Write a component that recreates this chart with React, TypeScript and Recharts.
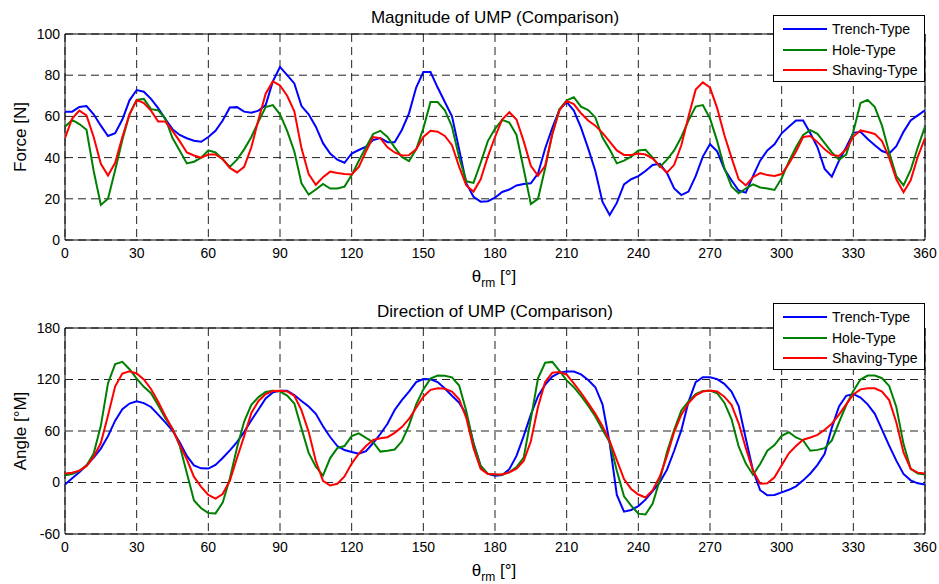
import React from 'react';
import { LineChart, Line, XAxis, YAxis, CartesianGrid, ReferenceArea, Legend } from 'recharts';

const FONT = '"Liberation Sans", Arial, Helvetica, sans-serif';

const theta = [
  0, 3, 6, 9, 12, 15, 18, 21, 24, 27, 30, 33, 36, 39, 42, 45, 48, 51, 54, 57, 60,
  63, 66, 69, 72, 75, 78, 81, 84, 87, 90, 93, 96, 99, 102, 105, 108, 111, 114, 117, 120,
  123, 126, 129, 132, 135, 138, 141, 144, 147, 150, 153, 156, 159, 162, 165, 168, 171, 174, 177, 180,
  183, 186, 189, 192, 195, 198, 201, 204, 207, 210, 213, 216, 219, 222, 225, 228, 231, 234, 237, 240,
  243, 246, 249, 252, 255, 258, 261, 264, 267, 270, 273, 276, 279, 282, 285, 288, 291, 294, 297, 300,
  303, 306, 309, 312, 315, 318, 321, 324, 327, 330, 333, 336, 339, 342, 345, 348, 351, 354, 357, 360,
];

// Magnitude of UMP [N]
const trenchForce = [
  62.3, 62.3, 64.6, 65, 61, 55.5, 50.5, 51.8, 58.5, 67.8, 72.8, 72, 68.5, 64, 58.7, 53.8, 51, 49.4, 48.2, 47.7, 50, 53, 58, 64.3, 64.5, 62.3, 61.8, 62.8, 65.5, 77, 84,
  80, 76, 65, 61, 55, 47, 42, 39, 37.5, 42, 43.7, 45.3, 48.5, 49.5, 47.5, 47.5, 53.4, 61.5, 74, 81.5, 81.5, 74, 67, 60, 44, 27.5, 21, 18.6, 18.8, 20.5,
  23.3, 24.5, 26.5, 27.2, 27.5, 32.2, 44.4, 54.5, 63.3, 67, 62.8, 54.5, 44.5, 33.5, 18.5, 12.1, 18, 27, 29.5, 31, 33.5, 36.4, 37, 32.5, 25, 21.8, 23.5, 31, 40.5, 46.5,
  43, 34.5, 29, 24, 23, 31, 38.5, 43.5, 46.5, 51.8, 55, 58, 58, 51.8, 45, 34.5, 30.7, 38.5, 45, 52, 52.5, 49, 46, 43.2, 42, 45.5, 52.5, 58, 60.5, 63,
];
const holeForce = [
  55, 58.3, 56.3, 53.5, 33.5, 17, 20, 34, 48.5, 61, 68, 68.5, 63.5, 63, 59, 49.5, 43.5, 37.2, 38, 40, 43.5, 42.5, 39.2, 35.5, 39, 44, 50, 57.5, 64.5, 65.5, 61,
  53, 43, 27.5, 22, 24.5, 27.2, 25, 25, 25.9, 31.5, 38.5, 45, 51.5, 53, 50, 45, 40.3, 38.3, 44, 54.2, 67, 67, 63, 55, 40, 28.5, 27.7, 37.5, 48, 54,
  58.3, 57, 51, 34.5, 17.5, 20, 35, 51.5, 63.5, 67.8, 69.3, 64.7, 63.1, 59.5, 49.7, 44, 37.2, 38.5, 40.5, 43.5, 43.8, 40, 35.5, 39, 43.5, 50, 58, 64.8, 65.5, 59,
  48, 35, 26, 22.7, 25, 27, 25.5, 25, 24.3, 30, 38, 45, 51, 53.3, 51.5, 47, 42.5, 39, 41.5, 52.5, 66.5, 68, 64.5, 55.5, 42.5, 31, 26.5, 34, 45, 55,
];
const shavingForce = [
  49.4, 59, 62.8, 60.5, 50, 37, 31.3, 37.5, 50, 61, 68, 66.5, 62.8, 57.5, 57.5, 53, 48, 42.5, 41, 40, 41.5, 41.5, 39.3, 35, 32.8, 35.5, 45, 58.5, 71, 77, 75,
  70, 62.5, 44.5, 32, 26.8, 30.5, 33.2, 32.5, 32, 31.8, 35.5, 43, 50, 49.4, 45, 42.5, 41, 41.2, 44, 50, 53, 52.6, 50.5, 46, 35.5, 26.5, 23.5, 29.5, 40.5, 50,
  58.5, 62, 58.5, 48, 36, 31.2, 36, 51.5, 63, 67.5, 66, 61.5, 58, 55.5, 52, 47.8, 43.5, 41.3, 41.3, 42, 41.5, 39.5, 36, 32.7, 36.5, 46, 60, 73, 76.5, 74,
  64, 51, 40, 29.5, 26.5, 30.5, 32.5, 31.5, 31.1, 32, 37, 43, 50, 50.5, 47.5, 44, 41.3, 40.8, 44, 50.2, 53.2, 52.4, 51.5, 48, 40, 29.5, 23.2, 29, 40.5, 49.5,
];

// Direction of UMP [°M]
const trenchAngle = [
  -2.4, 5, 12, 20, 29, 39.5, 54, 72, 85.5, 92, 94.5, 92.5, 88, 79, 70, 60.5, 47, 31, 20, 16.5, 16.2, 20.5, 28.5, 37.5, 47, 59, 72.5, 85, 98, 105, 107,
  107, 102, 95, 88.5, 80, 65.5, 53, 42.5, 37.8, 35.6, 33.5, 36.5, 46, 56.5, 68.5, 84.5, 96, 106, 117, 120.5, 120.3, 117, 109.5, 101, 93, 79, 46, 19, 10, 8,
  8.8, 15.5, 31, 54, 79, 100.5, 114, 123.5, 128, 129.3, 129.2, 126, 119.5, 111, 91, 46, -14.5, -34, -32, -27.5, -20, -10, 0.5, 15, 37, 61, 94, 116.8, 122.6, 122.6,
  120.5, 115, 106, 89, 51, 14, -9, -14.8, -14.5, -11.5, -8.5, -4.5, 2.5, 10.5, 20.5, 33.5, 64, 88.5, 101, 103, 99, 91, 80, 61.5, 43, 25.5, 10, 2.5, -1, -2.4,
];
const holeAngle = [
  8.4, 10, 13.5, 19.8, 33.7, 66, 115.7, 138, 140.5, 132, 121, 111.5, 104, 90, 75, 63, 43, 11, -21, -30, -35.5, -36, -23.5, 4.6, 40.5, 71, 90.5, 99.5, 105.5, 107, 106,
  101.3, 92, 63, 34.5, 18.5, 8, 28.5, 40, 42.5, 54, 57.3, 52, 47, 36, 37, 38.5, 48, 66.5, 91, 108.5, 121, 124.6, 124.3, 122.5, 113, 83, 45, 19.5, 10, 9.2,
  9, 12, 18, 29, 74, 121.5, 139.5, 140.5, 130, 119, 111, 101, 89.5, 77, 61.5, 47, 13.7, -16, -27, -36.3, -37.3, -24.5, 3, 35.5, 61.5, 84, 94.5, 103, 106.5, 107,
  104, 93, 74, 42, 22, 9, 21.5, 37, 43.5, 54.3, 58.5, 52.5, 49, 37, 38, 40, 49, 70, 90, 106.5, 120, 124.6, 124.6, 121.5, 112.5, 88, 45, 16, 10.5, 9.2,
];
const shavingAngle = [
  10.4, 11.3, 13.8, 19, 30, 46, 78, 112, 127, 129.5, 127, 120, 109, 94, 77.5, 62, 44, 27, 6.5, -5, -14.5, -18.7, -13.5, 2, 28.5, 54, 81, 95, 103, 106.5, 107,
  106, 101, 84, 59, 25, 2, -3.5, -1.5, 7, 22, 33.5, 42.5, 49.5, 51.6, 52.8, 57.8, 64.5, 74, 87, 100, 108, 109.8, 109.3, 106, 97, 75, 40, 16, 10, 9.5,
  9.3, 12, 16.2, 25, 48, 88, 117, 128, 128.8, 125.8, 115.5, 104.6, 92.5, 80, 65.5, 48.5, 26, 4, -7.5, -14, -17.5, -9, 7, 31, 58.8, 79, 92.5, 101.5, 106, 107.2,
  106, 100, 90.5, 69, 40, 14, -1.5, -1, 6, 20, 34, 42.5, 49.8, 52.5, 55.5, 61.5, 68.5, 79, 91, 102.5, 108.5, 109.8, 109.8, 106, 96, 70, 35, 16, 11.5, 10.4,
];

const seriesKeys = ['trench', 'hole', 'shaving'];
const seriesNames = ['Trench-Type', 'Hole-Type', 'Shaving-Type'];
const seriesColors = ['#0000FF', '#008000', '#FF0000'];

const xTicks = [0, 30, 60, 90, 120, 150, 180, 210, 240, 270, 300, 330, 360];
const forceTicks = [0, 20, 40, 60, 80, 100];
const angleTicks = [-60, 0, 60, 120, 180];

function buildRows(a: number[], b: number[], c: number[]) {
  return theta.map((t, i) => ({ theta: t, trench: a[i], hole: b[i], shaving: c[i] }));
}

const forceRows = buildRows(trenchForce, holeForce, shavingForce);
const angleRows = buildRows(trenchAngle, holeAngle, shavingAngle);

function LegendBox() {
  return (
    <div
      style={{
        boxSizing: 'border-box',
        width: 152,
        height: 67,
        border: '1px solid #000',
        background: '#fff',
        position: 'relative',
        fontFamily: FONT,
        fontSize: 14,
        color: '#000',
      }}
    >
      {seriesNames.map((n, i) => (
        <div
          key={n}
          style={{ position: 'absolute', left: 0, top: 4 + 20.7 * i, height: 18, display: 'flex', alignItems: 'center' }}
        >
          <div style={{ marginLeft: 9, width: 44, height: 2, background: seriesColors[i] }} />
          <span style={{ marginLeft: 5, whiteSpace: 'nowrap', lineHeight: '18px' }}>{n}</span>
        </div>
      ))}
    </div>
  );
}

type PanelProps = {
  rows: any[];
  domain: [number, number];
  ticks: number[];
  height: number;
  marginTop: number;
  title: string;
  titleY: number;
  yLabel: string;
  yLabelY: number;
  xLabelY: number;
  legendTop: number;
  top: number;
};

function Panel(p: PanelProps) {
  return (
    <div style={{ position: 'absolute', left: 0, top: p.top, width: 939, height: p.height }}>
      <LineChart
        width={939}
        height={p.height}
        data={p.rows}
        margin={{ top: p.marginTop, right: 14, bottom: 20, left: 25 }}
      >
        <CartesianGrid stroke="#222" strokeDasharray="8 5" strokeWidth={1} />
        <XAxis
          dataKey="theta"
          type="number"
          domain={[0, 360]}
          ticks={xTicks}
          interval={0}
          height={30}
          axisLine={false}
          tickLine={false}
          tickSize={6}
          tickMargin={2}
          tick={{ fill: '#000', fontSize: 14, fontFamily: FONT }}
          allowDataOverflow
        />
        <YAxis
          type="number"
          domain={p.domain}
          ticks={p.ticks}
          interval={0}
          width={40}
          axisLine={false}
          tickLine={false}
          tickSize={3}
          tickMargin={2}
          tick={{ fill: '#000', fontSize: 14, fontFamily: FONT }}
          allowDataOverflow
        />
        <ReferenceArea
          x1={0}
          x2={360}
          y1={p.domain[0]}
          y2={p.domain[1]}
          fill="none"
          fillOpacity={0}
          stroke="#000"
          strokeWidth={1}
          ifOverflow="visible"
        />
        {seriesKeys.map((k, i) => (
          <Line
            key={k}
            type="linear"
            dataKey={k}
            name={seriesNames[i]}
            stroke={seriesColors[i]}
            strokeWidth={2}
            dot={false}
            activeDot={false}
            isAnimationActive={false}
          />
        ))}
        <Legend
          layout="horizontal"
          verticalAlign="middle"
          align="center"
          content={<LegendBox />}
          wrapperStyle={{ left: 773, top: p.legendTop, width: 152, height: 67 }}
        />
      </LineChart>
      <svg
        width={939}
        height={p.height}
        style={{ position: 'absolute', left: 0, top: 0, pointerEvents: 'none' }}
      >
        <text x={495} y={p.titleY} textAnchor="middle" fontFamily={FONT} fontSize={17} fill="#000">
          {p.title}
        </text>
        <text
          transform={`translate(26, ${p.yLabelY}) rotate(-90)`}
          textAnchor="middle"
          fontFamily={FONT}
          fontSize={17}
          fill="#000"
        >
          {p.yLabel}
        </text>
        <text x={494} y={p.xLabelY} textAnchor="middle" fontFamily={FONT} fontSize={17} fill="#000">
          θ
          <tspan fontSize={12} dy={5}>rm</tspan>
          <tspan dy={-5}> [°]</tspan>
        </text>
      </svg>
    </div>
  );
}

export default function App() {
  return (
    <div style={{ position: 'absolute', left: 0, top: 0, width: 939, height: 584, background: '#fff' }}>
      <Panel
        rows={forceRows}
        domain={[0, 100]}
        ticks={forceTicks}
        height={290}
        marginTop={34}
        title="Magnitude of UMP (Comparison)"
        titleY={22.5}
        yLabel="Force [N]"
        yLabelY={137}
        xLabelY={282}
        legendTop={15}
        top={0}
      />
      <Panel
        rows={angleRows}
        domain={[-60, 180]}
        ticks={angleTicks}
        height={294}
        marginTop={38}
        title="Direction of UMP (Comparison)"
        titleY={26.5}
        yLabel="Angle [°M]"
        yLabelY={141}
        xLabelY={286}
        legendTop={13}
        top={290}
      />
    </div>
  );
}
